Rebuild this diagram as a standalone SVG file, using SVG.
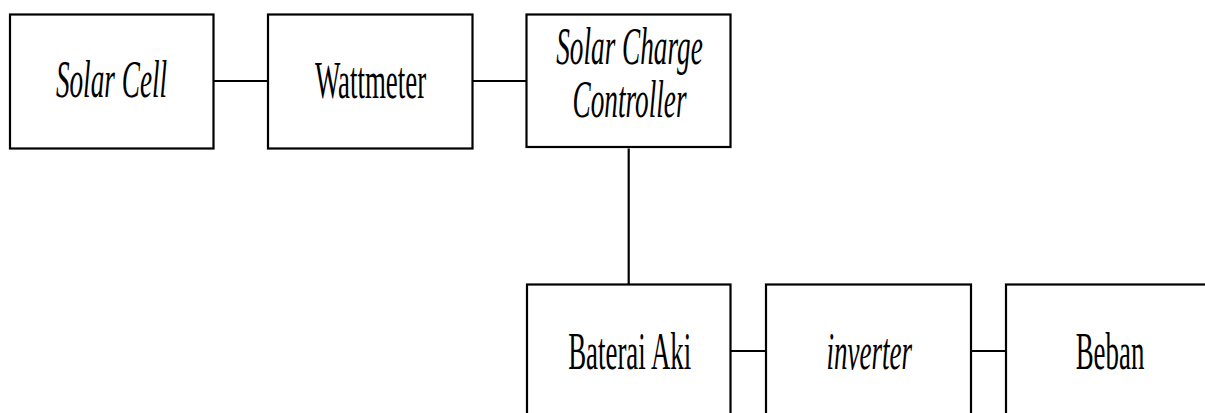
<svg xmlns="http://www.w3.org/2000/svg" width="1205" height="413" viewBox="0 0 1205 413">
<style>
.box{fill:#fff;stroke:#000;stroke-width:2.2}
.t{font-family:"Liberation Serif","Times New Roman",serif;font-size:53px;fill:#000;text-anchor:middle}
.i{font-style:italic}
.c{stroke:#000;stroke-width:2.2;fill:none}
</style>
<rect width="1205" height="413" fill="#fff"/>
<g id="connectors">
<line class="c" x1="213.5" y1="81" x2="268" y2="81"/>
<line class="c" x1="472.5" y1="81" x2="526.5" y2="81"/>
<line class="c" x1="628.7" y1="148.5" x2="628.7" y2="284"/>
<line class="c" x1="730.5" y1="351" x2="766" y2="351"/>
<line class="c" x1="971" y1="351" x2="1006" y2="351"/>
</g>
<g id="solar-cell">
<rect class="box" x="10" y="14.5" width="203.5" height="134"/>
<text class="t i" transform="translate(111.5 97) scale(0.514 1)">Solar Cell</text>
</g>
<g id="wattmeter">
<rect class="box" x="268" y="14.5" width="204.5" height="134"/>
<text class="t" transform="translate(370.5 97.5) scale(0.507 1)">Wattmeter</text>
</g>
<g id="solar-charge-controller">
<rect class="box" x="526.5" y="14.5" width="204" height="132.5"/>
<text class="t i" transform="translate(629.5 63.5) scale(0.514 1)">Solar Charge</text>
<text class="t i" transform="translate(629.5 116.5) scale(0.514 1)">Controller</text>
</g>
<g id="baterai-aki">
<rect class="box" x="527" y="284.5" width="203.5" height="140"/>
<text class="t" transform="translate(629.7 369.3) scale(0.507 1)">Baterai Aki</text>
</g>
<g id="inverter">
<rect class="box" x="766" y="284.5" width="205" height="140"/>
<text class="t i" transform="translate(869.2 369.3) scale(0.51 1)">inverter</text>
</g>
<g id="beban">
<rect class="box" x="1006" y="284.5" width="220" height="140"/>
<text class="t" transform="translate(1110 369.3) scale(0.507 1)">Beban</text>
</g>
</svg>
